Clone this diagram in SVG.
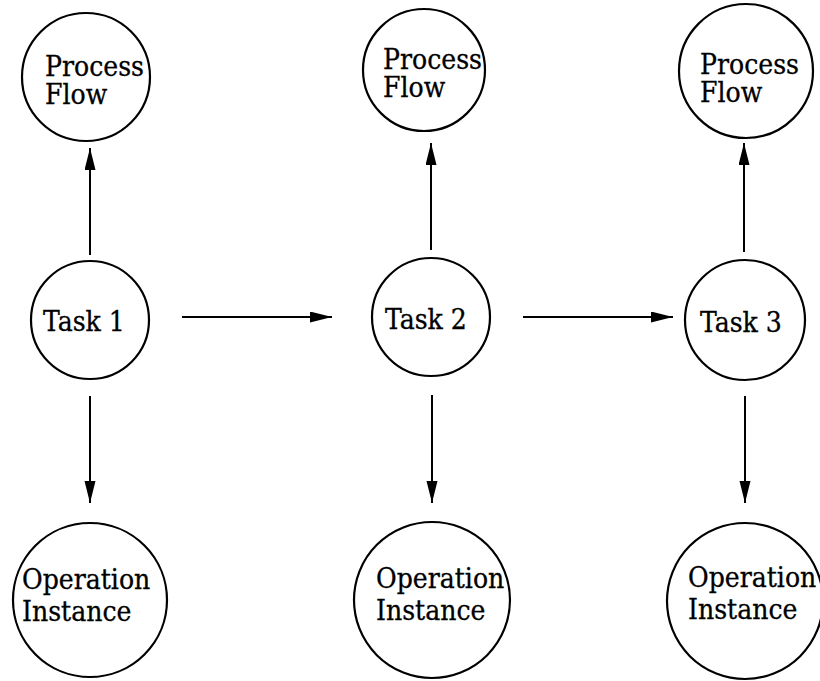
<svg xmlns="http://www.w3.org/2000/svg" width="820" height="681" viewBox="0 0 820 681">
  <style>
    .node { fill: #fff; stroke: #000; stroke-width: 2.2; }
    .label { font-family: "DejaVu Serif Condensed", "DejaVu Serif", "Liberation Serif", serif; font-stretch: condensed; font-size: 28px; fill: #000; stroke: #000; stroke-width: 0.3; }
    .edge { stroke: #000; stroke-width: 2; fill: none; marker-end: url(#arrow); }
  </style>
  <defs>
    <marker id="arrow" markerUnits="userSpaceOnUse" markerWidth="24" markerHeight="12" refX="22" refY="5.5" orient="auto">
      <path d="M0,0 L22,5.5 L0,11 Z" fill="#000"/>
    </marker>
  </defs>
  <rect width="820" height="681" fill="#fff"/>

  <!-- column 1 -->
  <g id="process-flow-1">
    <circle class="node" cx="86" cy="77" r="64"/>
    <text class="label" x="45" y="76">Process<tspan x="45" dy="28">Flow</tspan></text>
  </g>
  <g id="task-1">
    <circle class="node" cx="90" cy="320" r="59"/>
    <text class="label" x="43" y="331">Task 1</text>
  </g>
  <g id="operation-instance-1">
    <circle class="node" cx="90" cy="600" r="77"/>
    <text class="label" x="22" y="589">Operation<tspan x="22" dy="32">Instance</tspan></text>
  </g>

  <!-- column 2 -->
  <g id="process-flow-2">
    <circle class="node" cx="424" cy="70" r="61"/>
    <text class="label" x="383" y="69">Process<tspan x="383" dy="28">Flow</tspan></text>
  </g>
  <g id="task-2">
    <circle class="node" cx="431" cy="317" r="59"/>
    <text class="label" x="385" y="329">Task 2</text>
  </g>
  <g id="operation-instance-2">
    <circle class="node" cx="432" cy="600" r="78"/>
    <text class="label" x="376" y="588">Operation<tspan x="376" dy="32">Instance</tspan></text>
  </g>

  <!-- column 3 -->
  <g id="process-flow-3">
    <circle class="node" cx="746" cy="71" r="67"/>
    <text class="label" x="700" y="74">Process<tspan x="700" dy="28">Flow</tspan></text>
  </g>
  <g id="task-3">
    <circle class="node" cx="745" cy="320" r="60"/>
    <text class="label" x="700" y="332">Task 3</text>
  </g>
  <g id="operation-instance-3">
    <circle class="node" cx="745" cy="601" r="78"/>
    <text class="label" x="688" y="587">Operation<tspan x="688" dy="32">Instance</tspan></text>
  </g>

  <!-- connectors -->
  <g id="connectors">
    <line class="edge" x1="90" y1="255" x2="90" y2="148"/>
    <line class="edge" x1="90" y1="396" x2="90" y2="503"/>
    <line class="edge" x1="182" y1="317" x2="332" y2="317"/>

    <line class="edge" x1="431" y1="250" x2="431" y2="143"/>
    <line class="edge" x1="432" y1="395" x2="432" y2="503"/>
    <line class="edge" x1="523" y1="317" x2="673" y2="317"/>

    <line class="edge" x1="744" y1="252" x2="744" y2="143"/>
    <line class="edge" x1="745" y1="396" x2="745" y2="503"/>
  </g>
</svg>
